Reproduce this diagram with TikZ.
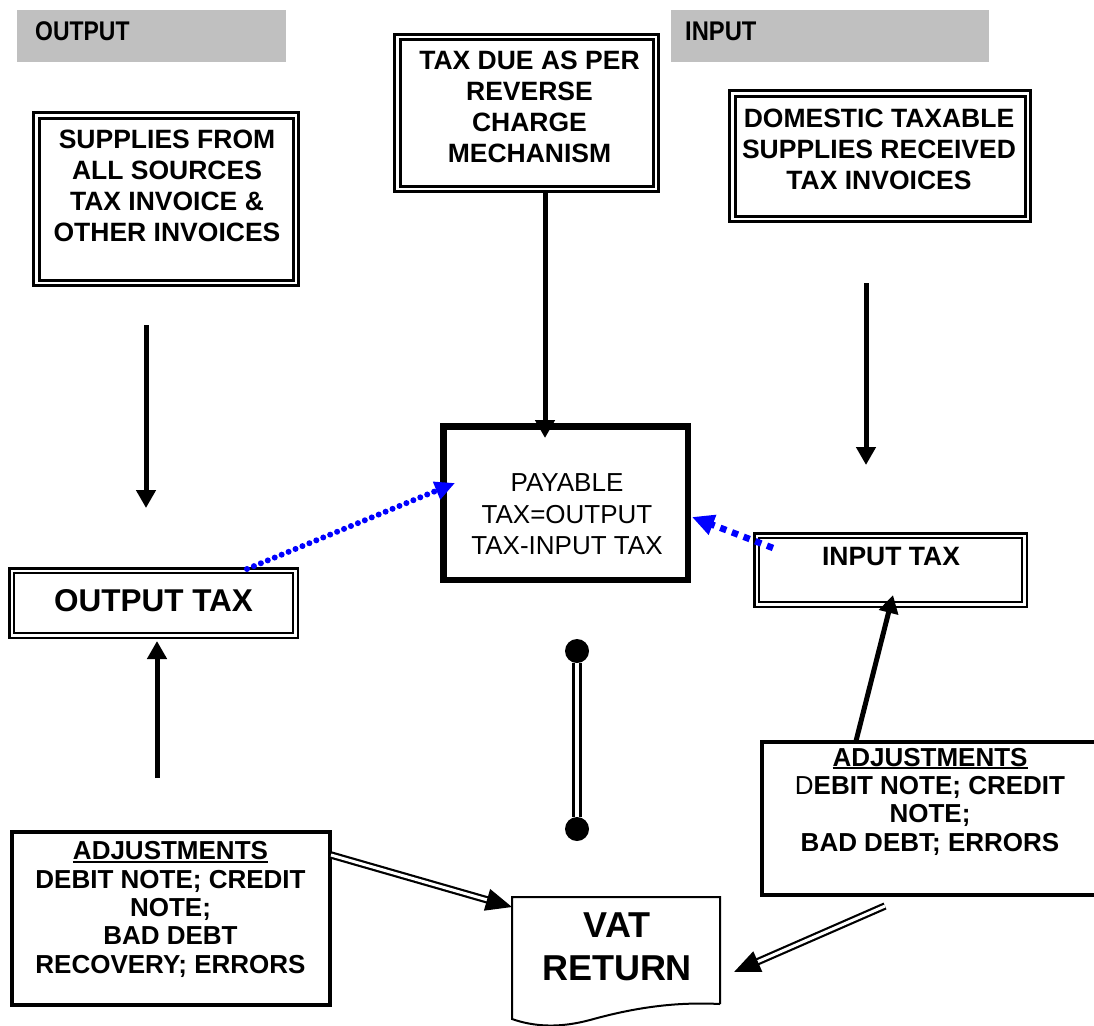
\documentclass[tikz,border=0pt]{standalone}
\usepackage{fontspec}
\setmainfont{Liberation Sans}
\usetikzlibrary{arrows.meta,calc}
\definecolor{hdrgray}{HTML}{C0C0C0}
\definecolor{arrblue}{HTML}{0000FF}
\newcommand{\myul}[1]{\setbox0\hbox{#1}\rlap{\rule[-3pt]{\wd0}{2pt}}\box0}
\begin{document}
\begin{tikzpicture}[x=1pt,y=-1pt,
  dbox/.style={draw, double, line width=3pt, double distance=2.5pt, inner sep=0pt},
  tbox/.style={draw, double, line width=2.4pt, double distance=2.5pt, inner sep=0pt},
  sbox/.style={draw, line width=4pt, inner sep=0pt},
  hdrbox/.style={fill=hdrgray, inner sep=0pt},
  hdrtxt/.style={font=\bfseries\fontsize{27}{30}\selectfont, inner sep=0pt, anchor=west},
  bt/.style={font=\bfseries\fontsize{26.5}{31}\selectfont, align=center, inner sep=0pt},
  adjtxt/.style={font=\bfseries\fontsize{26}{28.3}\selectfont, align=center, inner sep=0pt},
  barr/.style={line width=5pt, -{Triangle[length=18pt,width=19pt]}},
  bdot/.style={arrblue, line width=6pt, line cap=round, dash pattern=on 0pt off 7.5pt, -{Triangle[length=20pt,width=18pt]}},
  bsq/.style={arrblue, line width=6.5pt, dash pattern=on 6.5pt off 6pt, -{Triangle[length=22pt,width=20pt]}},
  darr/.style={double, line width=2.2pt, double distance=3pt, -{Triangle[length=26pt,width=22pt]}},
  dline/.style={double, line width=3pt, double distance=3.5pt},
  dot/.style={circle, fill=black, minimum size=24pt, inner sep=0pt}
]
\fill[white] (0,0) rectangle (1094,1025);
\useasboundingbox (0,0) rectangle (1094,1025);

% headers
\node[hdrbox, minimum width=269pt, minimum height=52pt] (hout) at (151.5,36) {};
\node[hdrtxt] (houtt) at (35,31) {\scalebox{0.85}[1]{OUTPUT}};
\node[hdrbox, minimum width=318pt, minimum height=52pt] (hin) at (830,36) {};
\node[hdrtxt] (hint) at (685,31) {\scalebox{0.88}[1]{INPUT}};

% top boxes
\node[dbox, minimum width=259.5pt, minimum height=167.5pt] (sup) at (166,199) {};
\node[bt] (supt) at (167,185.5) {SUPPLIES FROM\\ALL SOURCES\\TAX INVOICE \&\\OTHER INVOICES};

\node[dbox, minimum width=258.5pt, minimum height=151.5pt] (tax) at (526.5,113) {};
\node[bt] (taxt) at (529.5,106.5) {TAX DUE AS PER\\REVERSE\\CHARGE\\MECHANISM};

\node[dbox, minimum width=295.5pt, minimum height=125.5pt] (dom) at (880,156) {};
\node[bt] (domt) at (879,149) {DOMESTIC TAXABLE\\SUPPLIES RECEIVED\\TAX INVOICES};

% payable
\node[draw, line width=6.5pt, minimum width=244.5pt, minimum height=153.5pt, inner sep=0pt] (pay) at (565.5,503) {};
\node[font=\fontsize{26}{31.5}\selectfont, align=center, inner sep=0pt] (payt) at (567,514.5) {PAYABLE\\TAX=OUTPUT\\TAX-INPUT TAX};

% output tax / input tax
\node[tbox, minimum width=283.5pt, minimum height=64.5pt] (out) at (153.5,603) {};
\node[font=\bfseries\fontsize{31.5}{36}\selectfont, inner sep=0pt] (outt) at (153.5,601) {OUTPUT TAX};

\node[tbox, minimum width=267.5pt, minimum height=68.5pt] (inp) at (890.5,570) {};
\node[font=\bfseries\fontsize{26.5}{31}\selectfont, inner sep=0pt] (inpt) at (891,557) {INPUT TAX};

% adjustments
\node[sbox, minimum width=318pt, minimum height=173pt] (adjl) at (171,918.5) {};
\node[adjtxt] (adjlt) at (170.5,909.5) {\myul{ADJUSTMENTS}\\DEBIT NOTE; CREDIT\\NOTE;\\BAD DEBT\\RECOVERY; ERRORS};

\node[sbox, minimum width=340pt, minimum height=153pt] (adjr) at (932,818.5) {};
\node[adjtxt] (adjrt) at (930,801.5) {\myul{ADJUSTMENTS}\\{\mdseries D}EBIT NOTE; CREDIT\\NOTE;\\BAD DEBT; ERRORS};

% VAT return document
\draw[line width=2pt] (720,1004) -- (720,897) -- (512,897) -- (512,1019)
  .. controls (535,1027) and (560,1028) .. (590,1020)
  .. controls (640,1006) and (680,1002) .. (720,1004);
\node[font=\bfseries\fontsize{36}{43}\selectfont, align=center, inner sep=0pt] (vat) at (617,946.5) {VAT\\RETURN};

% connector end points
\coordinate (a1s) at (146,325); \coordinate (a1e) at (146,508);
\coordinate (a2e) at (545,438);
\coordinate (a3s) at (866,283); \coordinate (a3e) at (866,465);
\coordinate (a4s) at (157,778); \coordinate (a4e) at (157,641);
\coordinate (a5s) at (856,741); \coordinate (a5e) at (893,595);
\coordinate (b1s) at (247,569); \coordinate (b1e) at (455,483);
\coordinate (b2s) at (773,548); \coordinate (b2e) at (692,517);
\coordinate (d1s) at (331,855); \coordinate (d1e) at (512,907);
\coordinate (d2s) at (885,906); \coordinate (d2e) at (734,972);

\draw[barr] (a1s) -- (a1e);
\draw[barr] (tax.south -| a2e) -- (a2e);
\draw[barr] (a3s) -- (a3e);
\draw[barr] (a4s) -- (a4e);
\draw[barr] (a5s) -- (a5e);
\draw[bdot] (b1s) -- (b1e);
\draw[bsq] (b2s) -- (b2e);
\draw[darr] (d1s) -- (d1e);
\draw[darr] (d2s) -- (d2e);

% barbell
\node[dot] (c1) at (577,651) {};
\node[dot] (c2) at (577,829) {};
\draw[dline] (c1) -- (c2);
\end{tikzpicture}
\end{document}
